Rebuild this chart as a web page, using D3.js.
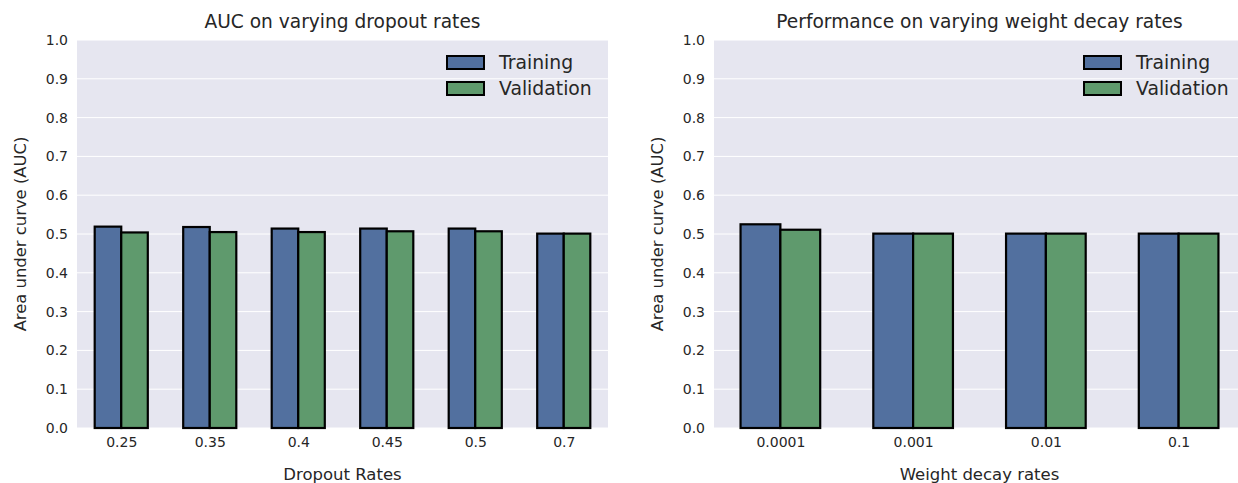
<!DOCTYPE html>
<html>
<head>
<meta charset="utf-8">
<script src="https://cdn.jsdelivr.net/npm/d3@7"></script>
<style>
  html, body { margin: 0; padding: 0; background: #ffffff; overflow: hidden; }
  svg { display: block; font-family: "DejaVu Sans", sans-serif; }
</style>
</head>
<body>
<svg id="chart" width="1238" height="483"></svg>
<script>
// ---- Data ----
const dropoutRates = ["0.25", "0.35", "0.4", "0.45", "0.5", "0.7"];
const dropoutTraining = [0.519, 0.518, 0.514, 0.514, 0.514, 0.501];
const dropoutValidation = [0.504, 0.505, 0.505, 0.507, 0.507, 0.501];

const decayRates = ["0.0001", "0.001", "0.01", "0.1"];
const decayTraining = [0.525, 0.501, 0.501, 0.501];
const decayValidation = [0.511, 0.501, 0.501, 0.501];

const yTicks = [0.0, 0.1, 0.2, 0.3, 0.4, 0.5, 0.6, 0.7, 0.8, 0.9, 1.0];
const seriesNames = ["Training", "Validation"];

// ---- Style ----
const colors = ["#52709f", "#5f9a6d"];
const bg = "#e6e6f0";
const textColor = "#262626";

const svg = d3.select("#chart");

function panel(opts) {
  const { left, top, width, height, cats, train, val, title, xLabel } = opts;
  const g = svg.append("g").attr("transform", `translate(${left},${top})`);

  const x = d3.scaleLinear().domain([-0.5, cats.length - 0.5]).range([0, width]);
  const y = d3.scaleLinear().domain([0, 1]).range([height, 0]);
  const barW = 0.3;

  g.append("rect").attr("width", width).attr("height", height).attr("fill", bg);

  // gridlines
  g.selectAll(".grid").data(yTicks).enter().append("line")
    .attr("x1", 0).attr("x2", width)
    .attr("y1", d => y(d)).attr("y2", d => y(d))
    .attr("stroke", "#ffffff").attr("stroke-width", 1);

  // y axis
  const yAxis = d3.axisLeft(y).tickValues(yTicks).tickFormat(d3.format(".1f")).tickSize(0).tickPadding(9);
  const ya = g.append("g").call(yAxis);
  ya.select(".domain").remove();
  ya.selectAll("text").attr("fill", textColor).style("font-size", "14px").style("font-family", "DejaVu Sans");

  // x axis
  const xAxis = d3.axisBottom(x).tickValues(d3.range(cats.length)).tickFormat(i => cats[i]).tickSize(0).tickPadding(9);
  const xa = g.append("g").attr("transform", `translate(0,${height})`).call(xAxis);
  xa.select(".domain").remove();
  xa.selectAll("text").attr("fill", textColor).style("font-size", "14px").style("font-family", "DejaVu Sans");

  // bars
  const series = [train, val];
  series.forEach((vals, s) => {
    g.selectAll(".bar" + s).data(vals).enter().append("rect")
      .attr("x", (d, i) => x(i + (s === 0 ? -barW : 0)))
      .attr("width", x(barW) - x(0))
      .attr("y", d => y(d))
      .attr("height", d => y(0) - y(d))
      .attr("fill", colors[s])
      .attr("stroke", "#000000")
      .attr("stroke-width", 2.2);
  });

  // title
  g.append("text").attr("x", width / 2).attr("y", -12)
    .attr("text-anchor", "middle").attr("fill", textColor)
    .style("font-size", "18.6px").text(title);

  // x label
  g.append("text").attr("x", width / 2).attr("y", height + 52)
    .attr("text-anchor", "middle").attr("fill", textColor)
    .style("font-size", "16.5px").text(xLabel);

  // y label
  g.append("text")
    .attr("transform", `translate(${-51},${height / 2}) rotate(-90)`)
    .attr("text-anchor", "middle").attr("fill", textColor)
    .style("font-size", "16.4px").text("Area under curve (AUC)");

  // legend
  const lg = g.append("g").attr("transform", `translate(${width - 161},16)`);
  seriesNames.forEach((name, s) => {
    lg.append("rect").attr("x", 0).attr("y", s * 26).attr("width", 37).attr("height", 13)
      .attr("fill", colors[s]).attr("stroke", "#000").attr("stroke-width", 2);
    lg.append("text").attr("x", 52).attr("y", s * 26 + 13)
      .attr("fill", textColor).style("font-size", "18.8px").text(name);
  });
}

panel({ left: 77, top: 40, width: 531, height: 388, cats: dropoutRates,
  train: dropoutTraining, val: dropoutValidation,
  title: "AUC on varying dropout rates", xLabel: "Dropout Rates" });

panel({ left: 714, top: 40, width: 531, height: 388, cats: decayRates,
  train: decayTraining, val: decayValidation,
  title: "Performance on varying weight decay rates", xLabel: "Weight decay rates" });
</script>
</body>
</html>
